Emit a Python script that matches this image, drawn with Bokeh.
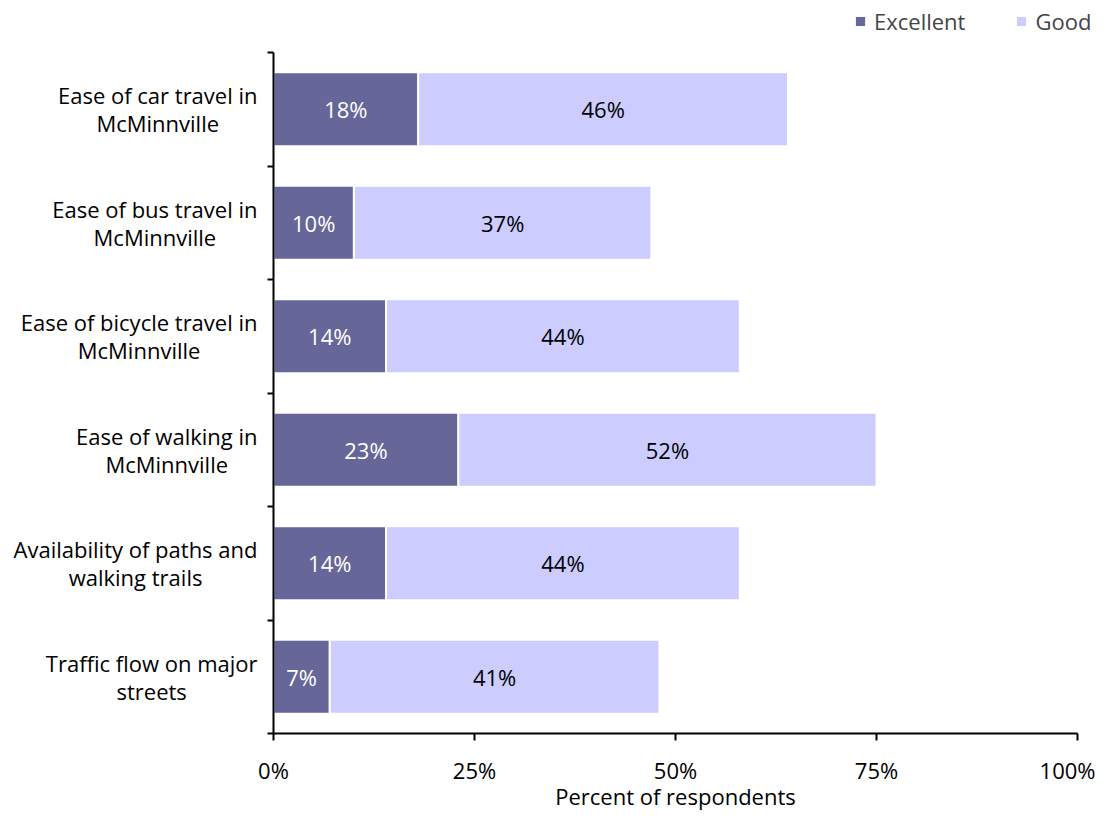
from bokeh.plotting import figure
from bokeh.models import (Range1d, FixedTicker, ColumnDataSource, Legend, LegendItem,
                          LinearAxis)
from bokeh.core.properties import value
from bokeh.embed import file_html
from bokeh.resources import INLINE

categories = [
    "Ease of car travel in\nMcMinnville",
    "Ease of bus travel in\nMcMinnville",
    "Ease of bicycle travel in\nMcMinnville",
    "Ease of walking in\nMcMinnville",
    "Availability of paths and\nwalking trails",
    "Traffic flow on major\nstreets",
]
excellent = [18, 10, 14, 23, 14, 7]
good = [46, 37, 44, 52, 44, 41]
x_ticks = [0, 25, 50, 75, 100]
x_tick_labels = ["0%", "25%", "50%", "75%", "100%"]
x_title = "Percent of respondents"

FONT = "Open Sans"
FS = "22px"
C_EXC = "#666699"
C_GOOD = "#CCCCFF"

# layout (pixels)
W, H = 1095, 812
AX_LEFT_PX, AX_RIGHT_PX = 273, 1077     # 0% and 100%
PLOT_TOP_PX, AX_BOTTOM_PX = 52, 733
px_per_x = (AX_RIGHT_PX - AX_LEFT_PX) / 100.0
n = len(categories)
px_per_y = (AX_BOTTOM_PX - PLOT_TOP_PX) / n
LABEL_RIGHT_PX = 257
TITLE_CENTER_PX = 795

ys = [i + 0.5 for i in range(n)]
good_right = [e + g for e, g in zip(excellent, good)]
label_x = (LABEL_RIGHT_PX - AX_LEFT_PX) / px_per_x

src = ColumnDataSource(dict(
    y=ys, zero=[0] * n, exc_right=excellent, good_left=excellent, good_right=good_right,
    exc_mid=[e / 2 for e in excellent],
    good_mid=[e + g / 2 for e, g in zip(excellent, good)],
    exc_lab=[f"{e}%" for e in excellent],
    good_lab=[f"{g}%" for g in good],
    cat=categories, cat_x=[label_x] * n,
))

p = figure(width=W, height=H, output_backend="svg", toolbar_location=None,
           x_range=Range1d(-AX_LEFT_PX / px_per_x, (W - AX_LEFT_PX) / px_per_x),
           y_range=Range1d(n + (H - AX_BOTTOM_PX) / px_per_y, -PLOT_TOP_PX / px_per_y),
           x_axis_location=None, y_axis_location=None, min_border=0)
p.outline_line_color = None
p.xgrid.grid_line_color = None
p.ygrid.grid_line_color = None

r1 = p.hbar(y="y", left="zero", right="exc_right", height=0.65, source=src,
            fill_color=C_EXC, line_color="white", line_width=2)
r2 = p.hbar(y="y", left="good_left", right="good_right", height=0.65, source=src,
            fill_color=C_GOOD, line_color="white", line_width=2)

p.text(x="exc_mid", y="y", text="exc_lab", source=src, text_align="center",
       text_baseline="middle", text_color="white", text_font=value(FONT),
       text_font_size=FS)
p.text(x="good_mid", y="y", text="good_lab", source=src, text_align="center",
       text_baseline="middle", text_color="black", text_font=value(FONT),
       text_font_size=FS)

# category labels: block right-aligned, lines centred
p.text(x="cat_x", y="y", text="cat", source=src, text_align="center",
       anchor=value("center_right"),
       text_baseline="middle", text_color="black", text_font=value(FONT),
       text_font_size=FS, text_line_height=0.93)

# x axis title
p.text(x=[50], y=[n + (TITLE_CENTER_PX - AX_BOTTOM_PX) / px_per_y], text=[x_title],
       text_align="center", text_baseline="middle", text_color="black",
       text_font=value(FONT), text_font_size=FS)

# Y axis at x = 0 with boundary ticks
yax = LinearAxis(fixed_location=0, bounds=(0, n),
                 ticker=FixedTicker(ticks=[], minor_ticks=list(range(n + 1))))
yax.major_label_text_font_size = "0px"
yax.major_tick_out = 0
yax.major_tick_in = 0
yax.minor_tick_out = 6
yax.minor_tick_in = 0
yax.minor_tick_line_color = "black"
yax.minor_tick_line_width = 2
yax.axis_line_color = "black"
yax.axis_line_width = 2
p.add_layout(yax, "left")

# X axis at the bottom of the bars
xax = LinearAxis(fixed_location=n, bounds=(0, 100), ticker=FixedTicker(ticks=x_ticks))
xax.major_label_overrides = {t: l for t, l in zip(x_ticks, x_tick_labels)}
xax.major_tick_out = 7
xax.major_tick_in = 0
xax.major_tick_line_width = 2
xax.minor_tick_line_color = None
xax.axis_line_width = 2
xax.major_label_text_font = FONT
xax.major_label_text_font_size = FS
xax.major_label_text_color = "black"
xax.major_label_standoff = 14
p.add_layout(xax, "below")

legend = Legend(items=[LegendItem(label="Excellent", renderers=[r1]),
                       LegendItem(label="Good", renderers=[r2])],
                orientation="horizontal", location=(853, H - 36),
                glyph_width=14, glyph_height=14, spacing=49, padding=8,
                label_standoff=7,
                label_text_font=FONT, label_text_font_size=FS,
                background_fill_alpha=0, border_line_color=None)
p.add_layout(legend, "center")

open("out.html", "w").write(file_html(p, INLINE))
